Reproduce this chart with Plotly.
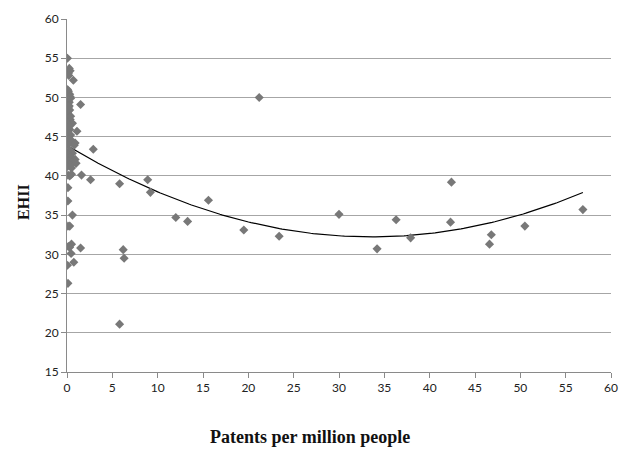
import numpy as np
import plotly.graph_objects as go

# Patents per million people (x) and EHII (y)
patents = [
    0.05, 0.25, 0.35, 0.15, 0.2, 0.7,
    0.05, 0.1, 0.3, 0.05, 0.2, 0.4, 0.1, 0.25, 0.15, 0.35, 0.05,
    1.5,
    0.05, 0.15, 0.3, 0.05, 0.2, 0.1, 0.35, 0.05, 0.25, 0.1, 0.4,
    0.6,
    0.2, 0.1, 0.3, 0.05, 0.15, 0.4, 0.1, 0.25, 0.05,
    1.1,
    0.2, 0.5, 0.9, 0.8, 0.05,
    2.9,
    0.3, 0.6, 0.1, 0.4, 0.9, 0.2, 0.6, 1.0, 0.3, 0.05, 0.5,
    0.1, 0.3, 0.5, 1.6, 2.6,
    0.1, 0.1, 0.6, 0.1, 0.3,
    0.15, 0.5, 0.3, 1.5, 0.45, 0.05, 0.75, 0.1,
    5.8,
    5.8, 8.9, 9.2, 12.0, 13.3, 15.6, 19.5, 23.4, 6.2, 6.3,
    21.2,
    30.0, 34.2, 36.3, 37.9, 42.4, 42.3, 46.8, 46.6, 50.5, 56.9,
]
ehii = [
    55.0, 53.7, 53.4, 53.1, 52.8, 52.2,
    51.0, 50.7, 50.4, 50.2, 50.0, 49.9, 49.6, 49.4, 50.8, 50.1, 49.8,
    49.1,
    49.0, 48.7, 48.4, 48.1, 47.8, 47.4, 47.2, 46.9, 48.9, 48.2, 47.6,
    46.7,
    46.5, 46.2, 45.9, 45.7, 45.4, 45.2, 45.0, 46.4, 45.6,
    45.7,
    44.7, 44.5, 44.2, 43.9, 44.0,
    43.4,
    43.3, 42.9, 42.7, 42.4, 42.1, 41.9, 41.7, 41.6, 41.4, 41.2, 41.0,
    40.1, 40.0, 40.2, 40.1, 39.5,
    38.5, 36.8, 35.0, 33.6, 33.6,
    31.0, 31.3, 30.9, 30.8, 30.1, 28.6, 29.0, 26.3,
    21.1,
    39.0, 39.5, 37.9, 34.7, 34.2, 36.9, 33.1, 32.3, 30.6, 29.5,
    50.0,
    35.1, 30.7, 34.4, 32.1, 39.2, 34.1, 32.5, 31.3, 33.6, 35.7,
]
x_ticks = list(range(0, 61, 5))
y_ticks = list(range(15, 61, 5))

# second-order polynomial trendline, as in the original
coef = np.polyfit(patents, ehii, 2)
trend_x = np.linspace(0, max(patents), 200)
trend_y = np.polyval(coef, trend_x)

fig = go.Figure()
fig.add_trace(go.Scatter(
    x=trend_x, y=trend_y, mode="lines",
    line=dict(color="black", width=1.2), hoverinfo="skip", showlegend=False,
))
fig.add_trace(go.Scatter(
    x=patents, y=ehii, mode="markers",
    marker=dict(symbol="diamond", size=7, color="#787878"),
    showlegend=False,
))

tick_font = dict(family="Lato, Open Sans, sans-serif", size=12, color="#222")
fig.update_layout(
    width=620, height=449,
    margin=dict(l=67, r=9, t=19, b=77),
    paper_bgcolor="white", plot_bgcolor="white",
    xaxis=dict(
        range=[0, 60], tickvals=x_ticks, showgrid=False, zeroline=False,
        showline=True, linecolor="#8a8a8a", linewidth=1,
        ticks="outside", ticklen=5, tickcolor="#8a8a8a",
        tickfont=tick_font, automargin=False, ticklabeloverflow="allow",
    ),
    yaxis=dict(
        range=[15, 60], tickvals=y_ticks, showgrid=True, gridcolor="#a6a6a6",
        gridwidth=1, zeroline=False,
        showline=True, linecolor="#8a8a8a", linewidth=1,
        ticks="outside", ticklen=5, tickcolor="#8a8a8a",
        tickfont=tick_font, automargin=False,
    ),
    annotations=[
        dict(text="<b>Patents per million people</b>", xref="paper", yref="paper",
             x=0.447, y=-0.15, xanchor="center", yanchor="top", showarrow=False,
             font=dict(family="Liberation Serif, Times New Roman, serif", size=18, color="#111")),
        dict(text="<b>EHII</b>", xref="paper", yref="paper",
             x=-0.079, y=0.482, xanchor="center", yanchor="middle", showarrow=False,
             textangle=-90,
             font=dict(family="Liberation Serif, Times New Roman, serif", size=16, color="#111")),
    ],
)

fig.write_html(
    "out.html",
    config={"displayModeBar": False},
    post_script="document.body.style.margin='0';document.body.style.overflow='hidden';",
)
